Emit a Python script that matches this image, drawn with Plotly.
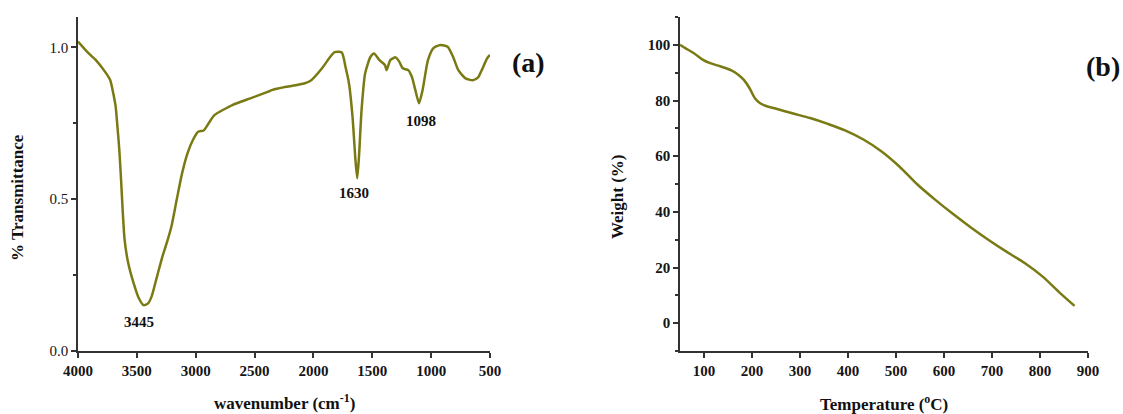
import plotly.graph_objects as go

# FTIR spectrum (panel a)
wavenumber = [4000, 3909, 3848, 3771, 3726, 3695, 3680, 3665, 3649, 3634, 3619, 3604, 3573, 3527,
              3482, 3442, 3405, 3375, 3329, 3283, 3238, 3207, 3162, 3116, 3070, 3024, 2979, 2933,
              2908, 2872, 2841, 2689, 2536, 2384, 2354, 2232, 2079, 2018, 1927, 1866, 1820, 1759,
              1728, 1698, 1668, 1643, 1628, 1613, 1591, 1561, 1515, 1485, 1439, 1393, 1378, 1347,
              1302, 1271, 1241, 1195, 1164, 1134, 1103, 1073, 1027, 982, 921, 860, 814, 769, 708,
              646, 601, 570, 524, 500]
transmittance = [1.019, 0.980, 0.958, 0.920, 0.892, 0.838, 0.805, 0.739, 0.662, 0.563, 0.453, 0.366,
                 0.289, 0.223, 0.173, 0.151, 0.157, 0.179, 0.245, 0.311, 0.366, 0.409, 0.497, 0.585,
                 0.651, 0.695, 0.722, 0.726, 0.739, 0.761, 0.777, 0.810, 0.832, 0.854, 0.859, 0.870,
                 0.881, 0.892, 0.931, 0.964, 0.984, 0.983, 0.936, 0.881, 0.772, 0.629, 0.569, 0.640,
                 0.794, 0.914, 0.969, 0.980, 0.958, 0.942, 0.925, 0.958, 0.967, 0.953, 0.931, 0.925,
                 0.903, 0.859, 0.816, 0.859, 0.958, 0.997, 1.008, 1.002, 0.969, 0.925, 0.898, 0.892,
                 0.901, 0.925, 0.964, 0.975]
peak_labels = ["3445", "1630", "1098"]
peak_x = [3480, 1658, 1088]
peak_y = [0.095, 0.52, 0.757]

# TGA curve (panel b)
temperature = [50, 61, 79, 98, 113, 135, 157, 172, 183, 195, 206, 217, 228, 247, 284, 321, 358, 395,
               433, 470, 507, 544, 582, 619, 656, 693, 730, 768, 805, 842, 872]
weight = [100.0, 98.8, 97.0, 94.6, 93.4, 92.2, 90.8, 89.2, 87.4, 84.4, 80.8, 79.0, 78.1, 77.2, 75.4,
          73.7, 71.6, 69.2, 65.9, 61.7, 56.3, 49.9, 44.3, 39.2, 34.4, 29.9, 25.7, 21.6, 16.8, 10.8, 6.2]

W, H = 1123, 414
MT, MB = 17, 63
PH = H - MT - MB
LINE = "#7a7a14"
FONT = "Liberation Serif"
AX = "#333333"

def py(ypx):
    return (H - MB - ypx) / PH

fig = go.Figure()
fig.add_trace(go.Scatter(x=wavenumber, y=transmittance, mode="lines",
                         line=dict(color=LINE, width=2.5, shape="spline", smoothing=0.6),
                         xaxis="x", yaxis="y", showlegend=False))
fig.add_trace(go.Scatter(x=temperature, y=weight, mode="lines",
                         line=dict(color=LINE, width=2.5, shape="spline", smoothing=0.8),
                         xaxis="x2", yaxis="y2", showlegend=False))

axis_common = dict(showline=True, linecolor=AX, linewidth=1.5, ticks="outside", ticklen=5,
                   tickwidth=1.5, tickcolor=AX, showgrid=False, zeroline=False,
                   tickprefix="<b>", ticksuffix="</b>",
                   tickfont=dict(family=FONT, size=15, color="#151515"), automargin=False)

fig.update_layout(
    width=W, height=H,
    margin=dict(l=0, r=0, t=MT, b=MB),
    paper_bgcolor="white", plot_bgcolor="white",
    xaxis=dict(domain=[78 / W, 490 / W], range=[4000, 500], tickmode="linear", tick0=500, dtick=500,
               anchor="y", **axis_common),
    yaxis=dict(domain=[0, 1], range=[0, 1.1], tickmode="array", tickvals=[0, 0.5, 1.0],
               ticktext=["0.0", "0.5", "1.0"],
               minor=dict(tickvals=[0.25, 0.75], ticks="outside", ticklen=3, tickcolor=AX, tickwidth=1.5),
               anchor="x", **axis_common),
    xaxis2=dict(domain=[680 / W, 1088 / W], range=[50, 900], tickmode="linear", tick0=0, dtick=100,
                anchor="y2", **axis_common),
    yaxis2=dict(domain=[0, 1], range=[-10, 110], tickmode="linear", tick0=0, dtick=20,
                minor=dict(tickmode="linear", tick0=10, dtick=20, ticks="outside", ticklen=3,
                           tickcolor=AX, tickwidth=1.5),
                anchor="x2", **axis_common),
)

ann = []
tfont = dict(family=FONT, size=17, color="#111111")
ann.append(dict(text="<b>wavenumber (cm<sup>-1</sup>)</b>", x=284 / W, y=py(402), xref="paper", yref="paper",
                showarrow=False, font=tfont, xanchor="center", yanchor="middle"))
ann.append(dict(text="<b>% Transmittance</b>", x=17 / W, y=py(198), xref="paper", yref="paper",
                showarrow=False, font=tfont, textangle=-90, xanchor="center", yanchor="middle"))
ann.append(dict(text="<b>Temperature (<sup>o</sup>C)</b>", x=884 / W, y=py(403), xref="paper", yref="paper",
                showarrow=False, font=tfont, xanchor="center", yanchor="middle"))
ann.append(dict(text="<b>Weight (%)</b>", x=617 / W, y=py(197), xref="paper", yref="paper",
                showarrow=False, font=tfont, textangle=-90, xanchor="center", yanchor="middle"))
ann.append(dict(text="<b>(a)</b>", x=528 / W, y=py(63), xref="paper", yref="paper", showarrow=False,
                font=dict(family=FONT, size=28, color="#111111"), xanchor="center", yanchor="middle"))
ann.append(dict(text="<b>(b)</b>", x=1103 / W, y=py(66), xref="paper", yref="paper", showarrow=False,
                font=dict(family=FONT, size=28, color="#111111"), xanchor="center", yanchor="middle"))
for lbl, px_, py_ in zip(peak_labels, peak_x, peak_y):
    ann.append(dict(text="<b>" + lbl + "</b>", x=px_, y=py_, xref="x", yref="y", showarrow=False,
                    font=dict(family=FONT, size=15, color="#111111"), xanchor="center", yanchor="middle"))
fig.update_layout(annotations=ann)

fig.write_html("out.html")
